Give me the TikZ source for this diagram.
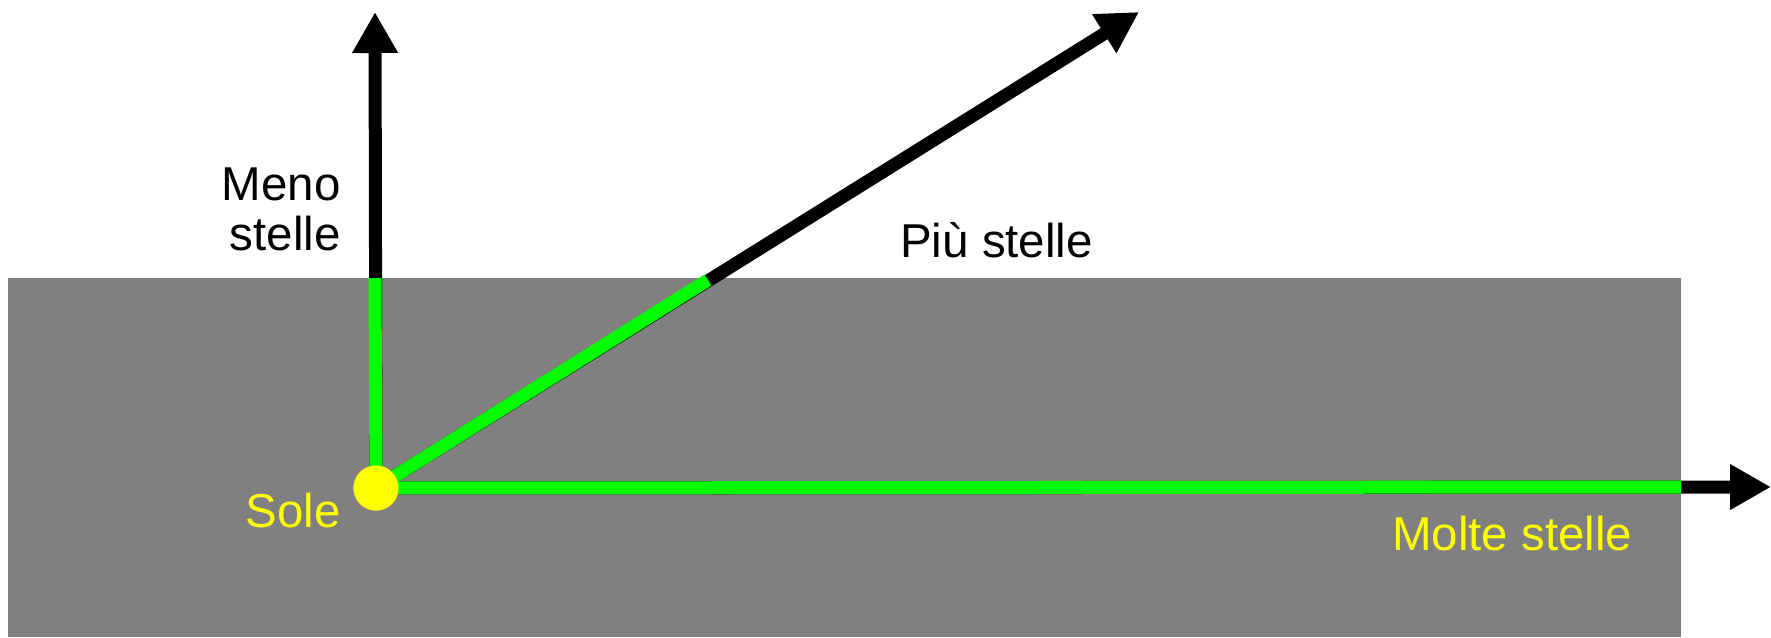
\documentclass[tikz,border=0pt]{standalone}
\usepackage{fontspec}
\setmainfont{Liberation Sans}
\usetikzlibrary{arrows.meta}
\definecolor{bggray}{HTML}{808080}
\definecolor{lgreen}{HTML}{00FF00}
\definecolor{sunyellow}{HTML}{FFFF00}
\tikzset{
  blackarrow/.style={draw=black,line width=13pt,-{Triangle[width=43pt,length=41pt]}},
  greenline/.style={draw=lgreen,line width=13pt},
  lbl/.style={inner sep=0pt,font=\fontsize{47.5}{50}\selectfont},
}
\begin{document}
\begin{tikzpicture}[x=1pt,y=-1pt]
\useasboundingbox (0,0) rectangle (1771,637);
\fill[bggray] (8,278) rectangle (1681,637);
\coordinate (upTip) at (375,12);
\coordinate (diagTip) at (1139,12);
\coordinate (rightTip) at (1771,487);
\coordinate (upEnd) at (375,278);
\coordinate (diagEnd) at (708,280);
\coordinate (rightEnd) at (1681,487);
\node[circle,fill=sunyellow,minimum size=45pt,inner sep=0pt] (sun) at (376,488) {};
\draw[blackarrow] (sun.center) -- (upTip);
\draw[blackarrow] (sun.center) -- (diagTip);
\draw[blackarrow] (sun.center) -- (rightTip);
\draw[greenline] (sun.center) -- (upEnd);
\draw[greenline,shift={(0.8,1.3)}] (sun.center) -- (diagEnd);
\draw[greenline,shift={(0,-1)}] (sun.center) -- (rightEnd);
\node[circle,fill=sunyellow,minimum size=45pt,inner sep=0pt] (sunTop) at (sun.center) {};
\node[lbl,anchor=base east] (meno) at (341,200) {Meno};
\node[lbl,anchor=base east] (stelleA) at (341,250) {stelle};
\node[lbl,anchor=base west] (piu) at (900,257) {Più stelle};
\node[lbl,anchor=base east,text=sunyellow] (sole) at (341,527) {Sole};
\node[lbl,anchor=base west,text=sunyellow] (molte) at (1392,550) {Molte stelle};
\end{tikzpicture}
\end{document}
